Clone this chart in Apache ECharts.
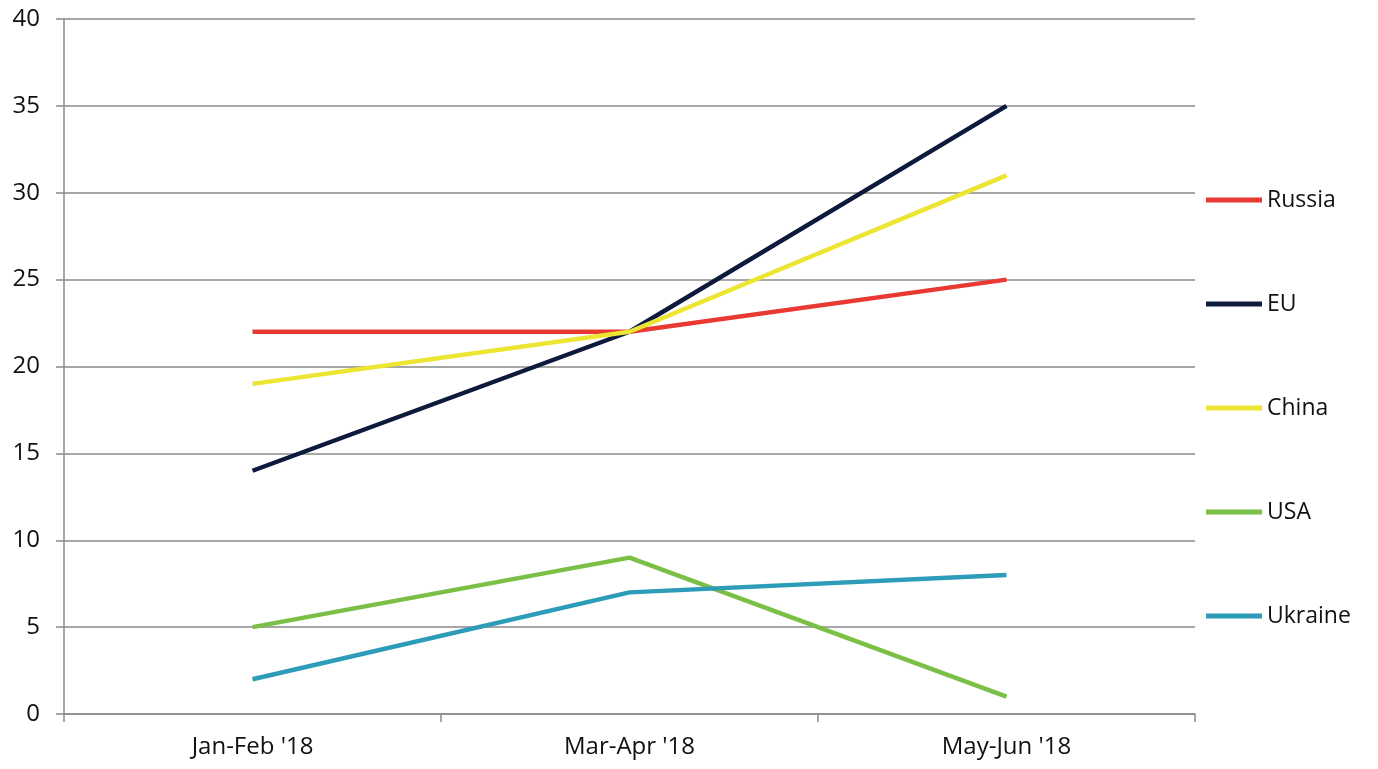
<!DOCTYPE html>
<html>
<head>
<meta charset="utf-8">
<script src="https://cdn.jsdelivr.net/npm/echarts@6/dist/echarts.min.js"></script>
<style>
  html, body { margin: 0; padding: 0; background: #fff; }
  #chart { width: 1378px; height: 769px; }
</style>
</head>
<body>
<div id="chart"></div>
<script>
// periods on the x axis
const periods = ["Jan-Feb '18", "Mar-Apr '18", "May-Jun '18"]

// values per country
const russia = [22, 22, 25]
const eu = [14, 22, 35]
const china = [19, 22, 31]
const usa = [5, 9, 1]
const ukraine = [2, 7, 8]

const names = ['Russia', 'EU', 'China', 'USA', 'Ukraine']
const colors = ['#e83a33', '#0e1a3c', '#ece532', '#7bc046', '#2d9cb8']
const values = [russia, eu, china, usa, ukraine]

const chart = echarts.init(document.getElementById('chart'))
const gridColor = '#8a8a8a'
const font = '"Open Sans", Lato, sans-serif'

chart.setOption({
  animation: false,
  color: colors,
  grid: { left: 64, right: 183, top: 19, bottom: 55, containLabel: false },
  legend: {
    orient: 'vertical',
    left: 1201,
    top: 183,
    icon: 'rect',
    itemWidth: 56,
    itemHeight: 5,
    itemGap: 80,
    textStyle: { fontFamily: font, fontSize: 23, color: '#111', lineHeight: 24 },
    data: names
  },
  xAxis: {
    type: 'category',
    data: periods,
    boundaryGap: true,
    axisLine: { lineStyle: { color: gridColor, width: 1.5 } },
    axisTick: { show: true, length: 8, lineStyle: { color: gridColor, width: 1.5 } },
    axisLabel: { fontFamily: font, fontSize: 24, color: '#111', margin: 21 }
  },
  yAxis: {
    type: 'value',
    min: 0,
    max: 40,
    interval: 5,
    axisLine: { show: true, lineStyle: { color: gridColor, width: 1.5 } },
    axisTick: { show: true, length: 8, lineStyle: { color: gridColor, width: 1.5 } },
    axisLabel: { fontFamily: font, fontSize: 24, color: '#111', margin: 24 },
    splitLine: { lineStyle: { color: gridColor, width: 1.5 } }
  },
  series: names.map((n, i) => ({
    name: n,
    type: 'line',
    data: values[i],
    symbol: 'none',
    lineStyle: { width: 4.5, color: colors[i] },
    itemStyle: { color: colors[i] }
  }))
})
</script>
</body>
</html>
